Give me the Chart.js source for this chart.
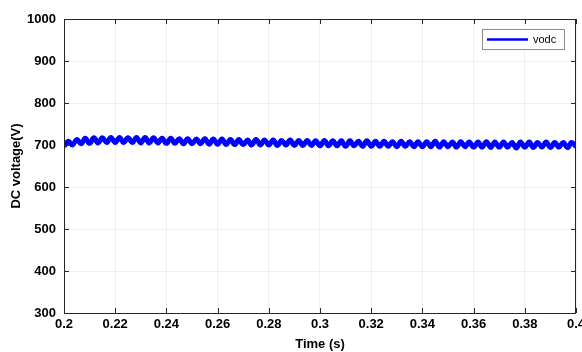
<!DOCTYPE html>
<html>
<head>
<meta charset="utf-8">
<script src="https://cdn.jsdelivr.net/npm/chart.js@4.4.0/dist/chart.umd.min.js"></script>
<style>
  html, body { margin: 0; padding: 0; background: #fff; }
  #wrap { width: 582px; height: 352px; }
</style>
</head>
<body>
<div id="wrap"><canvas id="myChart" width="582" height="352"></canvas></div>
<script>
// time (s), one point per ripple peak / trough
const times = [
  0.2000, 0.2017, 0.2033, 0.2050, 0.2067, 0.2083,
  0.2100, 0.2117, 0.2133, 0.2150, 0.2167, 0.2183,
  0.2200, 0.2217, 0.2233, 0.2250, 0.2267, 0.2283,
  0.2300, 0.2317, 0.2333, 0.2350, 0.2367, 0.2383,
  0.2400, 0.2417, 0.2433, 0.2450, 0.2467, 0.2483,
  0.2500, 0.2517, 0.2533, 0.2550, 0.2567, 0.2583,
  0.2600, 0.2617, 0.2633, 0.2650, 0.2667, 0.2683,
  0.2700, 0.2717, 0.2733, 0.2750, 0.2767, 0.2783,
  0.2800, 0.2817, 0.2833, 0.2850, 0.2867, 0.2883,
  0.2900, 0.2917, 0.2933, 0.2950, 0.2967, 0.2983,
  0.3000, 0.3017, 0.3033, 0.3050, 0.3067, 0.3083,
  0.3100, 0.3117, 0.3133, 0.3150, 0.3167, 0.3183,
  0.3200, 0.3217, 0.3233, 0.3250, 0.3267, 0.3283,
  0.3300, 0.3317, 0.3333, 0.3350, 0.3367, 0.3383,
  0.3400, 0.3417, 0.3433, 0.3450, 0.3467, 0.3483,
  0.3500, 0.3517, 0.3533, 0.3550, 0.3567, 0.3583,
  0.3600, 0.3617, 0.3633, 0.3650, 0.3667, 0.3683,
  0.3700, 0.3717, 0.3733, 0.3750, 0.3767, 0.3783,
  0.3800, 0.3817, 0.3833, 0.3850, 0.3867, 0.3883,
  0.3900, 0.3917, 0.3933, 0.3950, 0.3967, 0.3983,
  0.4000
];
// vodc (V)
const vodc = [
  697, 709, 700, 713, 703, 716,
  704, 717, 705, 717, 706, 718,
  706, 718, 706, 717, 706, 718,
  705, 718, 705, 717, 705, 716,
  704, 716, 704, 715, 703, 715,
  703, 714, 703, 715, 702, 714,
  702, 714, 701, 713, 701, 713,
  701, 712, 700, 713, 700, 712,
  700, 712, 699, 711, 700, 712,
  699, 711, 699, 711, 699, 710,
  698, 711, 698, 710, 698, 710,
  697, 710, 698, 709, 697, 710,
  697, 709, 697, 709, 697, 708,
  696, 709, 697, 708, 696, 708,
  696, 708, 696, 709, 695, 708,
  696, 707, 695, 708, 696, 707,
  695, 707, 695, 708, 694, 707,
  695, 707, 695, 706, 693, 707,
  695, 707, 694, 706, 695, 707,
  694, 706, 695, 706, 694, 706,
  696
];
const seriesName = 'vodc';
const xTicks = [0.2, 0.22, 0.24, 0.26, 0.28, 0.3, 0.32, 0.34, 0.36, 0.38, 0.4];
const yTicks = [300, 400, 500, 600, 700, 800, 900, 1000];

const axisColor = '#262626';
const boldFont = { family: 'Arial, "Liberation Sans", sans-serif', size: 13, weight: 'bold' };

// box around the axes, inward ticks and the legend, drawn matlab-style
const boxPlugin = {
  id: 'box',
  afterDatasetsDraw(chart) {
    const ctx = chart.ctx;
    const a = chart.chartArea;
    const xs = chart.scales.x, ys = chart.scales.y;
    ctx.save();
    ctx.strokeStyle = axisColor;
    ctx.lineWidth = 1;
    ctx.strokeRect(a.left + 0.5, a.top + 0.5, a.right - a.left - 1, a.bottom - a.top);
    ctx.beginPath();
    xTicks.forEach(v => {
      const px = Math.round(xs.getPixelForValue(v)) + 0.5;
      ctx.moveTo(px, a.bottom); ctx.lineTo(px, a.bottom - 5);
      ctx.moveTo(px, a.top); ctx.lineTo(px, a.top + 5);
    });
    yTicks.forEach(v => {
      const py = Math.round(ys.getPixelForValue(v)) + 0.5;
      ctx.moveTo(a.left, py); ctx.lineTo(a.left + 5, py);
      ctx.moveTo(a.right, py); ctx.lineTo(a.right - 5, py);
    });
    ctx.stroke();

    // legend
    const lx = 482, ly = 29, lw = 82, lh = 20;
    ctx.fillStyle = '#fff';
    ctx.fillRect(lx, ly, lw, lh);
    ctx.strokeStyle = '#8c8c8c';
    ctx.strokeRect(lx + 0.5, ly + 0.5, lw, lh);
    ctx.strokeStyle = 'rgb(0,0,255)';
    ctx.lineWidth = 2.5;
    ctx.beginPath();
    ctx.moveTo(487, ly + 10.5);
    ctx.lineTo(528, ly + 10.5);
    ctx.stroke();
    ctx.fillStyle = '#000';
    ctx.font = '11px Arial, "Liberation Sans", sans-serif';
    ctx.textBaseline = 'middle';
    ctx.textAlign = 'left';
    ctx.fillText(seriesName, 533, ly + 11);
    ctx.restore();
  }
};

const points = times.map((t, i) => ({ x: t, y: vodc[i] }));

new Chart(document.getElementById('myChart'), {
  type: 'line',
  data: {
    datasets: [{
      label: seriesName,
      data: points,
      borderColor: 'rgb(0,0,255)',
      borderWidth: 5,
      pointRadius: 0,
      tension: 0.4,
      fill: false
    }]
  },
  options: {
    responsive: false,
    animation: false,
    layout: { padding: { top: 19, right: 6, left: 0, bottom: 0 } },
    plugins: { legend: { display: false }, tooltip: { enabled: false } },
    scales: {
      x: {
        type: 'linear',
        min: 0.2,
        max: 0.4,
        afterBuildTicks(scale) { scale.ticks = xTicks.map(v => ({ value: v })); },
        afterFit(scale) { scale.height = 39; scale.paddingLeft = 0; scale.paddingRight = 0; },
        ticks: {
          color: '#000',
          font: boldFont,
          padding: 4,
          maxRotation: 0,
          autoSkip: false,
          callback: v => String(Number(v.toFixed(2)))
        },
        grid: { color: 'rgba(0,0,0,0.06)', drawTicks: false },
        border: { display: false },
        title: { display: true, text: 'Time (s)', color: '#000', font: boldFont, padding: { top: 0, bottom: 0 } }
      },
      y: {
        min: 300,
        max: 1000,
        afterBuildTicks(scale) { scale.ticks = yTicks.map(v => ({ value: v })); },
        afterFit(scale) { scale.width = 64; },
        ticks: { color: '#000', font: boldFont, padding: 8, callback: v => String(v) },
        grid: { color: 'rgba(0,0,0,0.06)', drawTicks: false },
        border: { display: false },
        title: { display: true, text: 'DC voltage(V)', color: '#000', font: boldFont, padding: { top: 9, bottom: 0 } }
      }
    }
  },
  plugins: [boxPlugin]
});
</script>
</body>
</html>
